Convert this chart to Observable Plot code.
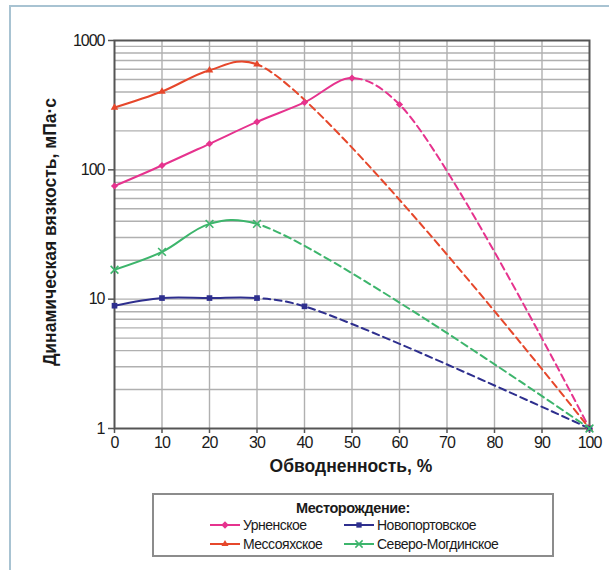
<!DOCTYPE html>
<html><head><meta charset="utf-8">
<script src="https://cdn.jsdelivr.net/npm/d3@7"></script>
<script src="https://cdn.jsdelivr.net/npm/@observablehq/plot@0.6"></script>
<style>
body{margin:0;background:#fff;}
#wrap{position:relative;width:609px;height:570px;overflow:hidden;font-family:"Liberation Sans",Arial,sans-serif;color:#1a1a1a;}
#border{position:absolute;left:9px;top:5px;width:640px;height:640px;border:2px solid #a8c3d2;}
#chart{position:absolute;left:0;top:0;}
.ytitle{position:absolute;left:50px;top:232px;transform:translate(-50%,-50%) rotate(-90deg);white-space:nowrap;font-weight:bold;font-size:17.5px;}
.xtitle{position:absolute;left:351px;top:466px;transform:translate(-50%,-50%);white-space:nowrap;font-weight:bold;font-size:17.5px;}
#legend{position:absolute;left:152px;top:493px;width:398px;height:60px;border:2px solid #8c8c8c;}
.ltitle{position:absolute;left:0;width:100%;top:5px;text-align:center;font-weight:bold;font-size:14.5px;letter-spacing:-0.4px;}
.litem{position:absolute;display:flex;align-items:center;font-size:14px;letter-spacing:-0.5px;white-space:nowrap;}
.litem svg{margin-right:3px;}
</style></head>
<body><div id="wrap"><div id="border"></div><div id="chart"></div>
<div class="ytitle">Динамическая вязкость, мПа·с</div>
<div class="xtitle">Обводненность, %</div>
<div id="legend"><div class="ltitle">Месторождение:</div></div>
</div>
<script>
// ---- data ----
const seriesNames = ["Урненское", "Мессояхское", "Новопортовское", "Северо-Могдинское"];
const seriesColors = ["#e6338e", "#e6472b", "#2e2f8e", "#3db56c"];
const seriesSymbols = ["diamond2", "triangle2", "square2", "times"];
const dashFrom = [50, 30, 30, 30];

const urenX = [0, 10, 20, 30, 40, 50, 60, 100];
const urenY = [75, 108, 159, 235, 332, 512, 320, 1];
const messX = [0, 10, 20, 30, 100];
const messY = [303, 403, 589, 655, 1];
const novoX = [0, 10, 20, 30, 40, 100];
const novoY = [8.9, 10.2, 10.2, 10.2, 8.8, 1];
const sevX = [0, 10, 20, 30, 100];
const sevY = [16.9, 23.2, 38.2, 38.2, 1];

const xTicks = [0, 10, 20, 30, 40, 50, 60, 70, 80, 90, 100];
const yTicks = [1, 10, 100, 1000];
const yGrid = [2,3,4,5,6,7,8,9,10,20,30,40,50,60,70,80,90,100,200,300,400,500,600,700,800,900];

const xs = [urenX, messX, novoX, sevX];
const ys = [urenY, messY, novoY, sevY];
const series = seriesNames.map((name, i) => ({
  name, color: seriesColors[i], symbol: seriesSymbols[i], brk: dashFrom[i],
  rows: xs[i].map((x, j) => ({x, y: ys[i][j], name}))
}));

const W = 609, H = 485;
const marks = [
  Plot.ruleY(yGrid, {stroke: "#b0b0b0", strokeWidth: 1.4}),
  Plot.ruleX(xTicks.slice(1, -1), {stroke: "#b0b0b0", strokeWidth: 1.4}),
];
series.forEach((s, i) => {
  marks.push(Plot.line(s.rows, {x: "x", y: "y", stroke: s.color, strokeWidth: 2, curve: "catmull-rom", ariaDescription: "solid-" + i}));
  marks.push(Plot.line(s.rows, {x: "x", y: "y", stroke: s.color, strokeWidth: 2, strokeDasharray: "7,4.5", curve: "catmull-rom", ariaDescription: "dash-" + i}));
});
marks.push(Plot.frame({stroke: "#555", strokeWidth: 2}));
marks.push(Plot.axisY(yTicks, {tickSize: 6, tickPadding: 4, tickFormat: d => String(d), fontSize: 16, label: null, stroke: "#555", strokeWidth: 1.5, color: "#1a1a1a"}));
marks.push(Plot.axisX(xTicks, {tickSize: 5, tickPadding: 3, tickFormat: d => String(d), fontSize: 16, label: null, stroke: "#555", strokeWidth: 1.5, color: "#1a1a1a"}));
series.forEach((s, i) => {
  const isStroke = s.symbol === "times";
  marks.push(Plot.dot(s.rows, {x: "x", y: "y", symbol: s.symbol, r: s.symbol === "diamond2" ? 3.2 : 3.6,
    fill: isStroke ? "none" : s.color, stroke: isStroke ? s.color : "none", strokeWidth: 1.6}));
});

const plot = Plot.plot({
  width: W, height: H,
  marginLeft: 114, marginRight: 20, marginTop: 40, marginBottom: H - 428,
  style: {fontFamily: '"Liberation Sans",Arial,sans-serif', fontSize: "16px", letterSpacing: "-1px", background: "transparent"},
  x: {domain: [0, 100]},
  y: {type: "log", domain: [1, 1000]},
  marks
});
document.getElementById("chart").appendChild(plot);

// clip each series into its solid and dashed part
const sx = plot.scale("x");
const svg = d3.select(plot);
const defs = svg.append("defs");
series.forEach((s, i) => {
  const xb = sx.apply(s.brk);
  defs.append("clipPath").attr("id", "cs" + i).append("rect").attr("x", 0).attr("y", 0).attr("width", xb).attr("height", H);
  defs.append("clipPath").attr("id", "cd" + i).append("rect").attr("x", xb).attr("y", 0).attr("width", W - xb).attr("height", H);
  svg.select(`g[aria-description="solid-${i}"]`).attr("clip-path", `url(#cs${i})`);
  svg.select(`g[aria-description="dash-${i}"]`).attr("clip-path", `url(#cd${i})`);
});

// legend
const legendPos = [[56, 22], [56, 41], [190, 22], [190, 41]];
const symMap = {diamond2: d3.symbolDiamond2 || d3.symbolDiamond, triangle2: d3.symbolTriangle2 || d3.symbolTriangle, square2: d3.symbolSquare2 || d3.symbolSquare, times: d3.symbolTimes || d3.symbolCross};
const legend = d3.select("#legend");
series.forEach((s, i) => {
  const it = legend.append("div").attr("class", "litem").style("left", legendPos[i][0] + "px").style("top", legendPos[i][1] + "px");
  const sv = it.append("svg").attr("width", 30).attr("height", 14);
  sv.append("line").attr("x1", 0).attr("x2", 30).attr("y1", 7).attr("y2", 7).attr("stroke", s.color).attr("stroke-width", 2);
  const isStroke = s.symbol === "times";
  sv.append("path").attr("transform", "translate(15,7)")
    .attr("d", d3.symbol(symMap[s.symbol], 36)())
    .attr("fill", isStroke ? "none" : s.color).attr("stroke", isStroke ? s.color : "none").attr("stroke-width", 1.5);
  it.append("span").text(s.name);
});
</script>
</body></html>
